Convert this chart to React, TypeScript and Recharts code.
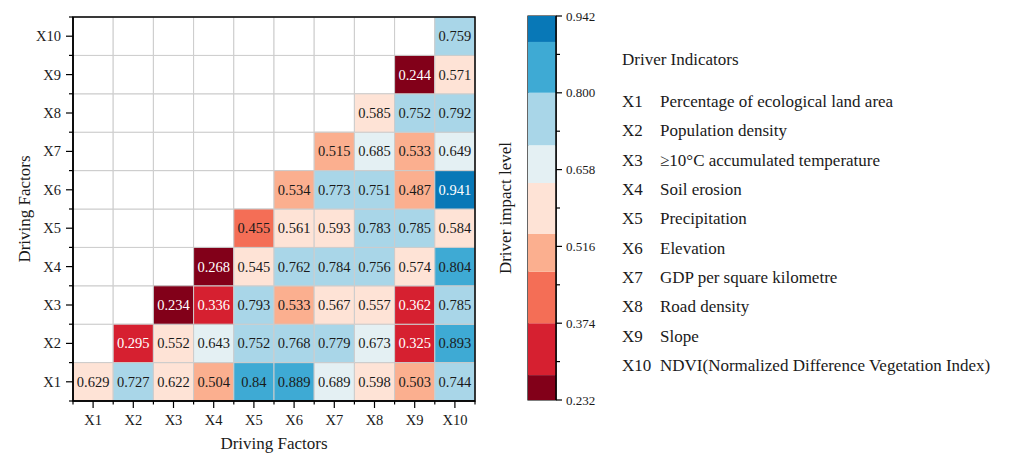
import React from "react";
import {
  ScatterChart,
  Scatter,
  BarChart,
  Bar,
  XAxis,
  YAxis,
  ReferenceArea,
  Label,
} from "recharts";

const FONT = "'Liberation Serif', 'Times New Roman', serif";

// Driving factors (both axes)
const factors = ["X1", "X2", "X3", "X4", "X5", "X6", "X7", "X8", "X9", "X10"];

// q-values per row; row Xr starts at column Xr
const rowX1 = [0.629, 0.727, 0.622, 0.504, 0.84, 0.889, 0.689, 0.598, 0.503, 0.744];
const rowX2 = [0.295, 0.552, 0.643, 0.752, 0.768, 0.779, 0.673, 0.325, 0.893];
const rowX3 = [0.234, 0.336, 0.793, 0.533, 0.567, 0.557, 0.362, 0.785];
const rowX4 = [0.268, 0.545, 0.762, 0.784, 0.756, 0.574, 0.804];
const rowX5 = [0.455, 0.561, 0.593, 0.783, 0.785, 0.584];
const rowX6 = [0.534, 0.773, 0.751, 0.487, 0.941];
const rowX7 = [0.515, 0.685, 0.533, 0.649];
const rowX8 = [0.585, 0.752, 0.792];
const rowX9 = [0.244, 0.571];
const rowX10 = [0.759];

// colour bins of the scale bar
const binEdges = [0.232, 0.278, 0.374, 0.469, 0.539, 0.633, 0.703, 0.8, 0.894, 0.942];
const binColors = [
  "#820019",
  "#d62030",
  "#f46e56",
  "#fbaf8f",
  "#fee3d6",
  "#e4f0f3",
  "#a9d6e8",
  "#3eaad4",
  "#0878b7",
];
const cbMajorTicks = [0.232, 0.374, 0.516, 0.658, 0.8, 0.942];
const cbMinorTicks = [0.303, 0.445, 0.587, 0.729, 0.871];

const indicatorNames = [
  "Percentage of ecological land area",
  "Population density",
  "≥10°C accumulated temperature",
  "Soil erosion",
  "Precipitation",
  "Elevation",
  "GDP per square kilometre",
  "Road density",
  "Slope",
  "NDVI(Normalized Difference Vegetation Index)",
];

const rows = [rowX1, rowX2, rowX3, rowX4, rowX5, rowX6, rowX7, rowX8, rowX9, rowX10];

const cells = rows.flatMap((vals, r) =>
  vals.map((v, k) => ({ c: r + 1 + k, r: r + 1, v }))
);
const emptyCells = factors.flatMap((_, ci) =>
  factors.map((_, ri) => ({ c: ci + 1, r: ri + 1 })).filter((p) => p.r > p.c)
);

const colorFor = (v: number) => {
  for (let i = 0; i < binColors.length; i++) {
    if (v < binEdges[i + 1]) return binColors[i];
  }
  return binColors[binColors.length - 1];
};
const textColorFor = (v: number) => (v < 0.374 || v > 0.894 ? "#ffffff" : "#1a1a1a");

const axisTicks = Array.from({ length: 21 }, (_, i) => 0.5 + i * 0.5);

const colorRow: Record<string, number | string> = { name: "scale", b0: binEdges[0] };
binColors.forEach((_, i) => {
  colorRow[`b${i + 1}`] = binEdges[i + 1] - binEdges[i];
});
const cbTicks = [...cbMajorTicks, ...cbMinorTicks].sort((a, b) => a - b);

const XTick = (props: any) => {
  const { x, y, payload } = props;
  const v = payload.value;
  const major = Number.isInteger(v);
  return (
    <g>
      <line x1={x} y1={y} x2={x} y2={y + (major ? 7 : 3.5)} stroke="#000" strokeWidth={1.2} />
      {major && (
        <text x={x} y={y + 24} textAnchor="middle" fontSize={14.5} fontFamily={FONT} fill="#1a1a1a">
          {factors[v - 1]}
        </text>
      )}
    </g>
  );
};

const YTick = (props: any) => {
  const { x, y, payload } = props;
  const v = payload.value;
  const major = Number.isInteger(v);
  return (
    <g>
      <line x1={x} y1={y} x2={x - (major ? 7 : 4)} y2={y} stroke="#000" strokeWidth={1.2} />
      {major && (
        <text x={x - 12} y={y} dy="0.35em" textAnchor="end" fontSize={14.5} fontFamily={FONT} fill="#1a1a1a">
          {factors[v - 1]}
        </text>
      )}
    </g>
  );
};

const CbTick = (props: any) => {
  const { x, y, payload } = props;
  const v = payload.value;
  const major = cbMajorTicks.includes(v);
  return (
    <g>
      <line x1={x} y1={y} x2={x + (major ? 6 : 4)} y2={y} stroke="#000" strokeWidth={1.2} />
      {major && (
        <text x={x + 10} y={y} dy="0.35em" textAnchor="start" fontSize={13} fontFamily={FONT} fill="#1a1a1a">
          {v.toFixed(3)}
        </text>
      )}
    </g>
  );
};

const vTitle = (text: string, dx: number) => (p: any) => {
  const { x, y, height } = p.viewBox;
  const cx = x + dx;
  const cy = y + height / 2;
  return (
    <text
      x={cx}
      y={cy}
      transform={`rotate(-90 ${cx} ${cy})`}
      textAnchor="middle"
      dominantBaseline="central"
      fontSize={17}
      fontFamily={FONT}
      fill="#1a1a1a"
    >
      {text}
    </text>
  );
};

const hTitle = (p: any) => {
  const { x, y, width } = p.viewBox;
  return (
    <text x={x + width / 2} y={y + 48} textAnchor="middle" fontSize={17} fontFamily={FONT} fill="#1a1a1a">
      Driving Factors
    </text>
  );
};

const ValueText = (props: any) => {
  const { cx, cy, payload } = props;
  return (
    <text
      x={cx}
      y={cy}
      dy="0.35em"
      textAnchor="middle"
      fontSize={14.5}
      fontFamily={FONT}
      fill={textColorFor(payload.v)}
    >
      {String(payload.v)}
    </text>
  );
};

const App = () => {
  return (
    <div style={{ position: "relative", width: 994, height: 447, fontFamily: FONT }}>
      <div style={{ position: "absolute", left: 0, top: 0 }}>
        <ScatterChart width={520} height={447} margin={{ top: 9, right: 53, bottom: 0, left: 0 }}>
          <XAxis
            type="number"
            dataKey="c"
            domain={[0.5, 10.5]}
            ticks={axisTicks}
            interval={0}
            height={54}
            tickSize={0}
            tickMargin={0}
            tickLine={false}
            axisLine={{ stroke: "#000", strokeWidth: 1.5 }}
            tick={<XTick />}
          >
            <Label content={hTitle} />
          </XAxis>
          <YAxis
            type="number"
            dataKey="r"
            domain={[0.5, 10.5]}
            ticks={axisTicks}
            interval={0}
            width={65}
            tickSize={0}
            tickMargin={0}
            tickLine={false}
            axisLine={{ stroke: "#000", strokeWidth: 1.5 }}
            tick={<YTick />}
          >
            <Label content={vTitle("Driving Factors", 16)} />
          </YAxis>
          {emptyCells.map((p) => (
            <ReferenceArea
              key={`e-${p.c}-${p.r}`}
              x1={p.c - 0.5}
              x2={p.c + 0.5}
              y1={p.r - 0.5}
              y2={p.r + 0.5}
              fill="#ffffff"
              fillOpacity={1}
              stroke="#cccccc"
              strokeWidth={1}
            />
          ))}
          {cells.map((p) => (
            <ReferenceArea
              key={`c-${p.c}-${p.r}`}
              x1={p.c - 0.5}
              x2={p.c + 0.5}
              y1={p.r - 0.5}
              y2={p.r + 0.5}
              fill={colorFor(p.v)}
              fillOpacity={1}
              stroke="#cccccc"
              strokeWidth={1}
            />
          ))}
          <ReferenceArea
            x1={0.5}
            x2={10.5}
            y1={0.5}
            y2={10.5}
            fill="none"
            stroke="#000"
            strokeWidth={1.5}
          />
          <Scatter data={cells} shape={<ValueText />} isAnimationActive={false} />
        </ScatterChart>
      </div>

      <div style={{ position: "absolute", left: 480, top: 0 }}>
        <BarChart
          width={120}
          height={447}
          data={[colorRow]}
          barCategoryGap={0}
          barGap={0}
          margin={{ top: 8, right: 0, bottom: 55, left: 0 }}
        >
          <XAxis dataKey="name" hide />
          <YAxis
            yAxisId="title"
            orientation="left"
            width={40}
            type="number"
            domain={[binEdges[0], binEdges[binEdges.length - 1]]}
            tick={false}
            tickLine={false}
            axisLine={false}
          >
            <Label content={vTitle("Driver impact level", 17)} />
          </YAxis>
          <YAxis
            orientation="right"
            width={52}
            type="number"
            domain={[binEdges[0], binEdges[binEdges.length - 1]]}
            allowDataOverflow
            ticks={cbTicks}
            interval={0}
            tickSize={0}
            tickMargin={0}
            tickLine={false}
            axisLine={{ stroke: "#000", strokeWidth: 1.5 }}
            tick={<CbTick />}
          />
          <Bar dataKey="b0" stackId="s" fill="none" isAnimationActive={false} />
          {binColors.map((col, i) => (
            <Bar key={i} dataKey={`b${i + 1}`} stackId="s" fill={col} isAnimationActive={false} />
          ))}
          <ReferenceArea
            y1={binEdges[0]}
            y2={binEdges[binEdges.length - 1]}
            fill="none"
            stroke="#000"
            strokeWidth={1.2}
          />
        </BarChart>
      </div>

      <div
        style={{
          position: "absolute",
          left: 614,
          top: 42,
          fontSize: 17,
          lineHeight: "20px",
          color: "#1a1a1a",
          whiteSpace: "nowrap",
        }}
      >
        Driver Indicators
      </div>
      {factors.map((f, i) => (
        <div
          key={f}
          style={{
            position: "absolute",
            left: 614,
            top: 84 + i * 29.35,
            fontSize: 17,
            lineHeight: "20px",
            color: "#1a1a1a",
            whiteSpace: "nowrap",
          }}
        >
          <span style={{ display: "inline-block", width: 38 }}>{f}</span>
          {indicatorNames[i]}
        </div>
      ))}
    </div>
  );
};

export default App;
